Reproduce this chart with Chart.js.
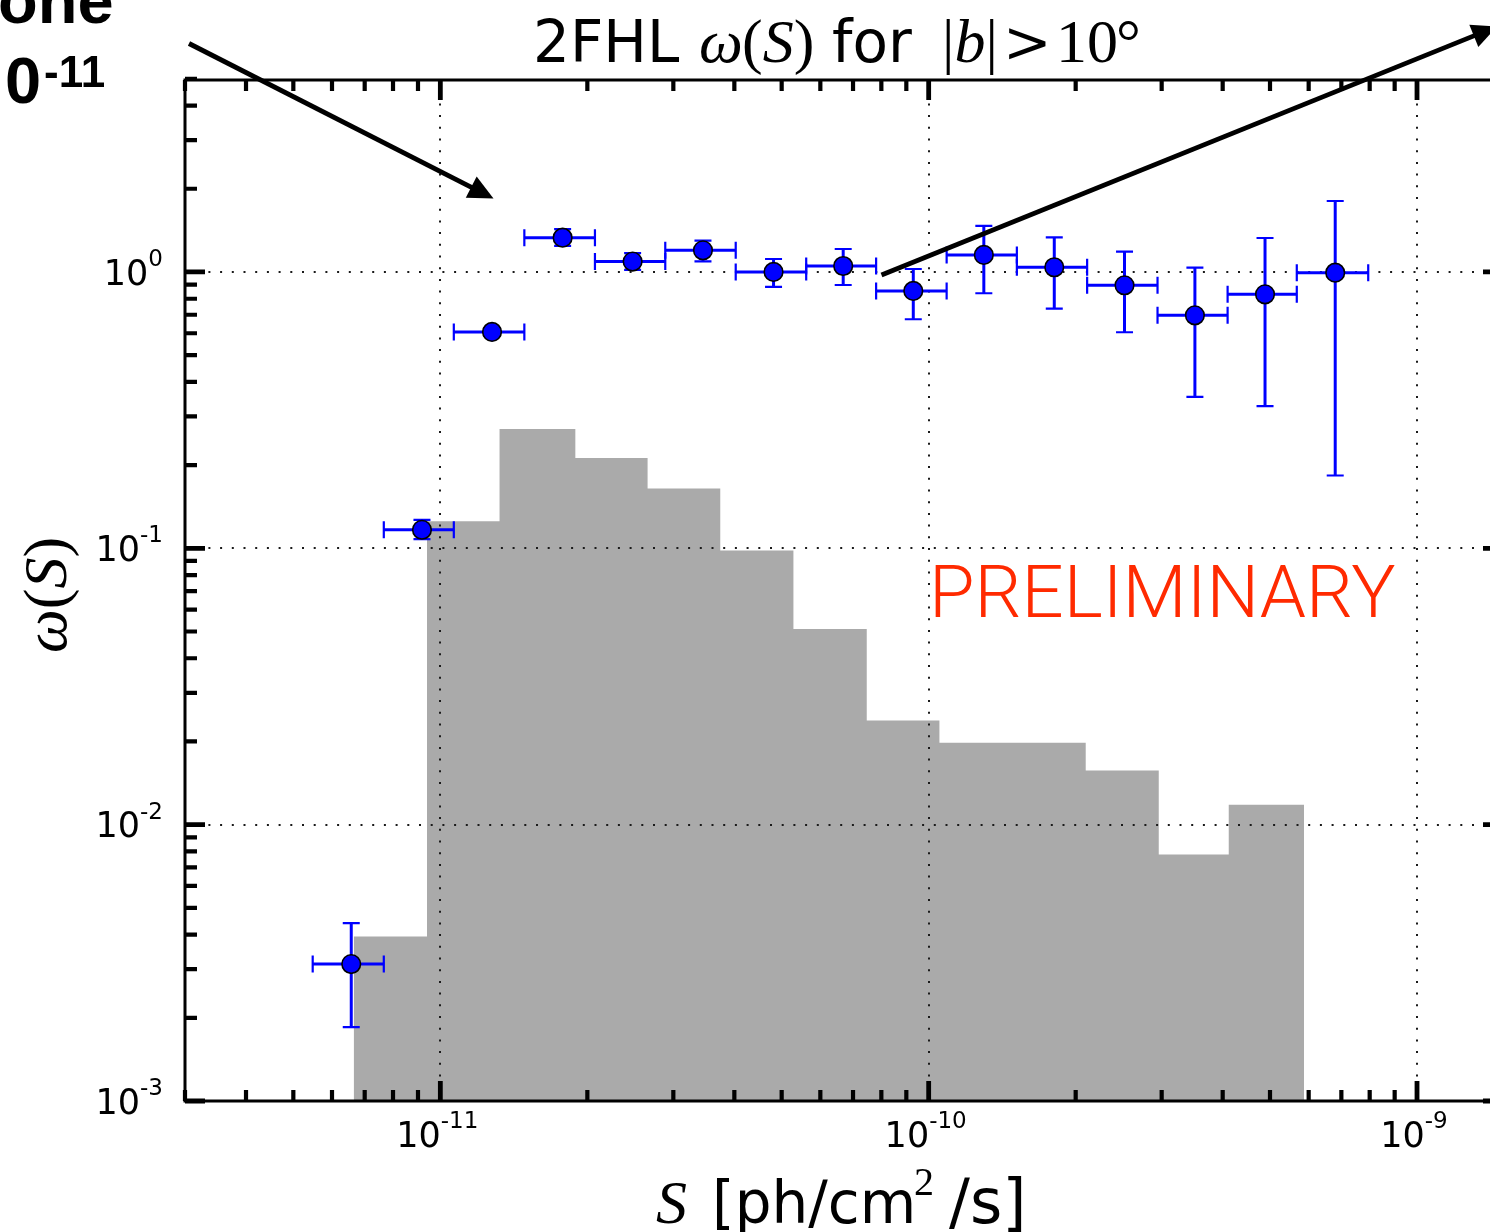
<!DOCTYPE html>
<html><head><meta charset="utf-8">
<script src="https://cdn.jsdelivr.net/npm/chart.js@4"></script>
<style>
html,body{margin:0;padding:0;background:#fff;overflow:hidden;width:1490px;height:1232px}
#wrap{position:absolute;left:0;top:0;width:1510px;height:1232px}
</style>
</head><body><div id="wrap"><canvas id="c" width="1510" height="1232"></canvas></div>
<script>
// ---- data ----
const pointFlux      = [6.57e-12, 9.17e-12, 1.276e-11, 1.780e-11, 2.476e-11, 3.450e-11, 4.812e-11, 6.683e-11, 9.30e-11, 1.297e-10, 1.808e-10, 2.518e-10, 3.509e-10, 4.884e-10, 6.80e-10];
const pointFluxLow   = [5.478e-12, 7.66e-12, 1.0656e-11, 1.486e-11, 2.073e-11, 2.888e-11, 4.026e-11, 5.613e-11, 7.805e-11, 1.0884e-10, 1.5156e-10, 2.111e-10, 2.942e-10, 4.094e-10, 5.673e-10];
const pointFluxHigh  = [7.66e-12, 1.0656e-11, 1.486e-11, 2.073e-11, 2.888e-11, 4.026e-11, 5.613e-11, 7.805e-11, 1.0884e-10, 1.5156e-10, 2.111e-10, 2.942e-10, 4.094e-10, 5.673e-10, 7.945e-10];
const pointOmega     = [0.00313, 0.1167, 0.6067, 1.331, 1.090, 1.198, 1.000, 1.051, 0.854, 1.152, 1.040, 0.895, 0.697, 0.830, 0.994];
const pointOmegaLow  = [0.00185, 0.1080, 0.590, 1.242, 1.017, 1.093, 0.883, 0.897, 0.6744, 0.8375, 0.7367, 0.605, 0.3531, 0.3268, 0.1834];
const pointOmegaHigh = [0.00440, 0.1268, 0.625, 1.430, 1.169, 1.298, 1.114, 1.211, 1.025, 1.467, 1.335, 1.184, 1.036, 1.327, 1.806];
const histEdges  = [6.646e-12, 9.39e-12, 1.322e-11, 1.890e-11, 2.657e-11, 3.743e-11, 5.285e-11, 7.468e-11, 1.052e-10, 1.484e-10, 2.097e-10, 2.959e-10, 4.116e-10, 5.870e-10];
const histValues = [0.00394, 0.1254, 0.270, 0.212, 0.1646, 0.0982, 0.0510, 0.0238, 0.0198, 0.0198, 0.0157, 0.0078, 0.0118];
const xMajorTicks = [1e-11, 1e-10, 1e-9];
const xTickExponents = ['-11', '-10', '-9'];
const yMajorTicks = [1, 0.1, 0.01, 0.001];
const yTickExponents = ['0', '-1', '-2', '-3'];
const minorMultipliers = [2,3,4,5,6,7,8,9];
const xDecades = [1e-12, 1e-11, 1e-10, 1e-9];
const yDecades = [1e-3, 1e-2, 1e-1, 1];

const histData = histEdges.map((e, i) => ({x: e, y: histValues[Math.min(i, histValues.length - 1)]}));

const SANS = '"DejaVu Sans"';
const SERIF = '"Liberation Serif"';

function drawSegs(ctx, segs, x, y) {
  let cx = x;
  for (const s of segs) {
    ctx.font = s.f;
    const px = (s.x !== undefined) ? s.x : cx;
    ctx.fillText(s.t, px, y + (s.dy || 0));
    cx = px + ctx.measureText(s.t).width;
  }
  return cx;
}
function segsWidth(ctx, segs) {
  let w = 0;
  for (const s of segs) { ctx.font = s.f; w += ctx.measureText(s.t).width; }
  return w;
}

const errorBarPlugin = {
  id: 'errbars',
  beforeDatasetDraw(chart, args) {
    if (args.index !== 0) return;
    const {ctx, chartArea: ca} = chart;
    const xs = chart.scales.x, ys = chart.scales.y;
    ctx.save();
    ctx.beginPath(); ctx.rect(ca.left, ca.top, ca.width, ca.height); ctx.clip();
    // dotted grid
    ctx.strokeStyle = '#1a1a1a'; ctx.lineWidth = 2; ctx.setLineDash([2, 9.7]);
    for (const v of xMajorTicks) {
      const px = Math.round(xs.getPixelForValue(v));
      ctx.beginPath(); ctx.moveTo(px, ca.top); ctx.lineTo(px, ca.bottom); ctx.stroke();
    }
    for (const v of yMajorTicks) {
      const py = Math.round(ys.getPixelForValue(v));
      ctx.beginPath(); ctx.moveTo(ca.left, py); ctx.lineTo(ca.right, py); ctx.stroke();
    }
    ctx.setLineDash([]);
    // error bars
    ctx.strokeStyle = '#0000ff';
    const cap = 8.5;
    for (let i = 0; i < pointFlux.length; i++) {
      const cx = xs.getPixelForValue(pointFlux[i]);
      const cy = ys.getPixelForValue(pointOmega[i]);
      const x0 = xs.getPixelForValue(pointFluxLow[i]);
      const x1 = xs.getPixelForValue(pointFluxHigh[i]);
      const y0 = ys.getPixelForValue(pointOmegaLow[i]);
      const y1 = ys.getPixelForValue(pointOmegaHigh[i]);
      ctx.lineWidth = 3;
      ctx.beginPath(); ctx.moveTo(x0, cy); ctx.lineTo(x1, cy); ctx.stroke();
      ctx.beginPath(); ctx.moveTo(cx, y0); ctx.lineTo(cx, y1); ctx.stroke();
      ctx.lineWidth = 2.2;
      ctx.beginPath();
      ctx.moveTo(x0, cy - cap); ctx.lineTo(x0, cy + cap);
      ctx.moveTo(x1, cy - cap); ctx.lineTo(x1, cy + cap);
      ctx.moveTo(cx - cap, y0); ctx.lineTo(cx + cap, y0);
      ctx.moveTo(cx - cap, y1); ctx.lineTo(cx + cap, y1);
      ctx.stroke();
    }
    ctx.restore();
  }
};

function arrow(ctx, x0, y0, x1, y1, lw, hl, hw) {
  const dx = x1 - x0, dy = y1 - y0, L = Math.hypot(dx, dy);
  const ux = dx / L, uy = dy / L;
  const bx = x1 - ux * hl, by = y1 - uy * hl;
  ctx.lineWidth = lw; ctx.lineCap = 'butt';
  ctx.beginPath(); ctx.moveTo(x0, y0); ctx.lineTo(bx + ux * 2, by + uy * 2); ctx.stroke();
  ctx.beginPath();
  ctx.moveTo(x1, y1);
  ctx.lineTo(bx - uy * hw, by + ux * hw);
  ctx.lineTo(bx + uy * hw, by - ux * hw);
  ctx.closePath(); ctx.fill();
}

const framePlugin = {
  id: 'frame',
  afterDraw(chart) {
    const {ctx, chartArea: ca} = chart;
    const xs = chart.scales.x, ys = chart.scales.y;
    ctx.save();
    // spines
    ctx.strokeStyle = '#000'; ctx.lineWidth = 3;
    ctx.strokeRect(ca.left, ca.top, ca.right - ca.left, ca.bottom - ca.top);
    // ticks (pointing inward, on all four sides)
    ctx.lineCap = 'butt';
    const drawX = (v, len, w) => {
      const px = xs.getPixelForValue(v);
      ctx.lineWidth = w;
      ctx.beginPath();
      ctx.moveTo(px, ca.top); ctx.lineTo(px, ca.top + len);
      ctx.moveTo(px, ca.bottom); ctx.lineTo(px, ca.bottom - len);
      ctx.stroke();
    };
    const drawY = (v, len, w) => {
      const py = ys.getPixelForValue(v);
      ctx.lineWidth = w;
      ctx.beginPath();
      ctx.moveTo(ca.left, py); ctx.lineTo(ca.left + len, py);
      ctx.moveTo(ca.right, py); ctx.lineTo(ca.right - len, py);
      ctx.stroke();
    };
    for (const d of xDecades) for (const m of minorMultipliers) {
      const v = d * m;
      if (v >= xs.min * 0.999 && v <= xs.max * 1.001) drawX(v, 11, 4.2);
    }
    for (const v of xMajorTicks) drawX(v, 20, 4.8);
    for (const d of yDecades) for (const m of minorMultipliers) {
      const v = d * m;
      if (v >= ys.min && v <= ys.max * 1.02) drawY(v, 12, 4.2);
    }
    for (const v of yMajorTicks) drawY(v, 20, 4.8);

    // tick labels
    ctx.fillStyle = '#000'; ctx.textBaseline = 'alphabetic'; ctx.textAlign = 'left';
    const baseF = '35px ' + SANS, supF = '23px ' + SANS;
    yMajorTicks.forEach((v, i) => {
      const py = ys.getPixelForValue(v);
      ctx.font = baseF; const wb = ctx.measureText('10').width;
      ctx.font = supF; const ws = ctx.measureText(yTickExponents[i]).width;
      const xStart = 163 - ws - wb;
      ctx.font = baseF; ctx.fillText('10', xStart, py + 12.7);
      ctx.font = supF; ctx.fillText(yTickExponents[i], xStart + wb, py - 6);
    });
    xMajorTicks.forEach((v, i) => {
      const px = xs.getPixelForValue(v);
      ctx.font = baseF; const wb = ctx.measureText('10').width;
      ctx.font = supF; const ws = ctx.measureText(xTickExponents[i]).width;
      const xStart = px - 3 - (wb + ws) / 2;
      ctx.font = baseF; ctx.fillText('10', xStart, 1147);
      ctx.font = supF; ctx.fillText(xTickExponents[i], xStart + wb, 1128);
    });

    // title
    const T = 62;
    drawSegs(ctx, [
      {t: '2FHL', f: '58px ' + SANS, x: 533},
      {t: 'ω', f: 'italic ' + T + 'px ' + SERIF, x: 699},
      {t: '(', f: T + 'px ' + SERIF, x: 742},
      {t: 'S', f: 'italic ' + T + 'px ' + SERIF},
      {t: ')', f: T + 'px ' + SERIF},
      {t: 'for', f: '58px ' + SANS, x: 832},
      {t: '|', f: T + 'px ' + SERIF, x: 942},
      {t: 'b', f: 'italic ' + T + 'px ' + SERIF},
      {t: '|', f: T + 'px ' + SERIF},
      {t: '>', f: '58px "DejaVu Serif"', x: 1003},
      {t: '10', f: T + 'px ' + SERIF, x: 1056},
      {t: '°', f: T + 'px ' + SERIF, x: 1116}
    ], 533, 62);

    // y-axis label (rotated)
    ctx.save();
    ctx.translate(66, 595); ctx.rotate(-Math.PI / 2);
    const ySegs = [
      {t: 'ω', f: 'italic 62px ' + SERIF},
      {t: '(', f: '62px ' + SERIF},
      {t: 'S', f: 'italic 62px ' + SERIF},
      {t: ')', f: '62px ' + SERIF}
    ];
    drawSegs(ctx, ySegs, -segsWidth(ctx, ySegs) / 2, 0);
    ctx.restore();

    // x-axis label
    drawSegs(ctx, [
      {t: 'S', f: 'italic 62px ' + SERIF, x: 656},
      {t: '[ph/cm', f: '58px ' + SANS, x: 712},
      {t: '2', f: '40px ' + SERIF, x: 914, dy: -28},
      {t: '/s]', f: '62px ' + SANS, x: 949}
    ], 656, 1223);

    // PRELIMINARY
    ctx.save();
    ctx.fillStyle = '#ff2a00';
    ctx.font = '300 73px Roboto';
    const m = ctx.measureText('PRELIMINARY');
    const inkW = m.actualBoundingBoxLeft + m.actualBoundingBoxRight;
    const sx = 460 / inkW;
    ctx.translate(935, 617); ctx.scale(sx, 1);
    ctx.fillText('PRELIMINARY', m.actualBoundingBoxLeft, 0);
    ctx.restore();

    // slide fragments at top-left
    ctx.fillStyle = '#000';
    ctx.font = 'bold 65px "Liberation Sans"';
    ctx.fillText('one', -2, 23);
    ctx.fillText('0', 5, 103);
    ctx.font = 'bold 44px "Liberation Sans"';
    ctx.fillText('-11', 44, 87);

    // arrows
    ctx.strokeStyle = '#000'; ctx.fillStyle = '#000';
    arrow(ctx, 189, 43.5, 493.5, 198.5, 4.8, 25, 12);
    arrow(ctx, 881.5, 275, 1497, 26.5, 4.8, 25, 12);
    ctx.restore();
  }
};

new Chart(document.getElementById('c'), {
  type: 'scatter',
  data: {
    datasets: [
      {
        type: 'scatter', label: 'ω(S)',
        data: pointFlux.map((v, i) => ({x: v, y: pointOmega[i]})),
        pointRadius: 9.3, pointHoverRadius: 9.3,
        backgroundColor: '#0000ff', borderColor: '#000', borderWidth: 1.6,
        order: 1, clip: false
      },
      {
        type: 'line', label: 'histogram',
        data: histData, stepped: true, fill: 'start',
        backgroundColor: '#aaaaaa', borderColor: 'rgba(0,0,0,0)', borderWidth: 1,
        pointRadius: 0, order: 2
      }
    ]
  },
  options: {
    responsive: false, animation: false, devicePixelRatio: 1, events: [],
    layout: {autoPadding: false, padding: {left: 185, top: 80, right: 7, bottom: 131}},
    plugins: {legend: {display: false}, title: {display: false}, tooltip: {enabled: false}},
    scales: {
      x: {type: 'logarithmic', min: 3e-12, max: 1.5e-9, display: false},
      y: {type: 'logarithmic', min: 1e-3, max: 4.95, display: false}
    }
  },
  plugins: [errorBarPlugin, framePlugin]
});
</script>
</body></html>
